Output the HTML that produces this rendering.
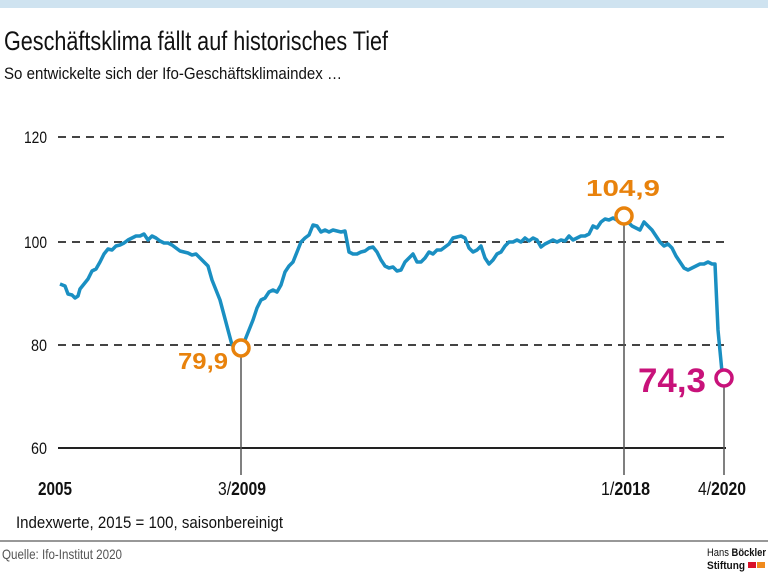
<!DOCTYPE html>
<html><head><meta charset="utf-8"><style>
body{margin:0;width:768px;height:573px;background:#fff;overflow:hidden;font-family:"Liberation Sans",sans-serif}
</style></head><body>
<svg width="768" height="573" xmlns="http://www.w3.org/2000/svg" style="position:absolute;left:0;top:0" font-family="Liberation Sans, sans-serif">
<rect x="0" y="0" width="768" height="8" fill="#cfe3f0"/>
<text x="4" y="50" font-size="27" fill="#111" textLength="384" lengthAdjust="spacingAndGlyphs">Geschäftsklima fällt auf historisches Tief</text>
<text x="4" y="79" font-size="17" fill="#111" textLength="338" lengthAdjust="spacingAndGlyphs">So entwickelte sich der Ifo-Geschäftsklimaindex …</text>
<g stroke="#444" stroke-width="2" stroke-dasharray="8,6">
<line x1="58" y1="137" x2="724" y2="137"/>
<line x1="58" y1="242" x2="724" y2="242"/>
<line x1="58" y1="345" x2="724" y2="345"/>
</g>
<line x1="58" y1="448" x2="726" y2="448" stroke="#222" stroke-width="2"/>
<g font-size="17" fill="#111">
<text x="24" y="143" textLength="23" lengthAdjust="spacingAndGlyphs">120</text>
<text x="24" y="248" textLength="23" lengthAdjust="spacingAndGlyphs">100</text>
<text x="31" y="351" textLength="16" lengthAdjust="spacingAndGlyphs">80</text>
<text x="31" y="454" textLength="16" lengthAdjust="spacingAndGlyphs">60</text>
</g>
<g stroke="#555" stroke-width="1.5">
<line x1="241" y1="356" x2="241" y2="475"/>
<line x1="624" y1="224" x2="624" y2="475"/>
<line x1="724" y1="386" x2="724" y2="475"/>
</g>
<polyline fill="none" stroke="#1a8fc2" stroke-width="3.5" stroke-linejoin="round" points="60,284 65,286 68,294 72,295 75,298 78,296 80,289 84,284 88,279 92,271 96,269 100,262 104,254 108,249 112,250 116,246 120,245 124,243 128,240 132,238 136,236 140,236 144,234 148,240 152,236 156,238 160,241 164,243 168,243 172,245 176,248 180,251 184,252 188,253 192,255 196,254 200,258 204,262 208,266 212,280 216,290 220,300 224,315 228,330 232,345 236,348 241,348 245,340 249,330 253,320 257,308 261,300 265,298 269,292 273,290 277,292 281,285 285,272 289,266 293,262 297,252 301,242 305,238 309,235 313,225 317,226 321,232 325,230 329,232 333,230 337,231 341,232 345,231 349,252 353,254 357,254 361,252 365,251 369,248 373,247 377,252 381,260 385,266 389,268 393,267 397,271 401,270 405,262 409,258 413,254 417,262 421,262 425,258 429,252 433,254 437,250 441,250 445,247 449,244 453,238 457,237 461,236 465,238 469,248 473,252 477,250 481,246 485,258 489,264 493,260 497,254 501,252 505,246 509,242 513,242 517,240 521,242 525,238 529,241 533,238 537,240 541,247 545,244 549,242 553,240 557,242 561,240 565,241 569,236 573,240 577,238 581,236 585,236 589,234 593,226 597,228 601,222 605,219 609,220 613,218 617,220 621,216 624,216 628,222 632,226 636,228 640,230 644,222 648,226 652,230 656,236 660,242 664,246 668,244 672,248 676,256 680,262 684,268 688,270 692,268 696,266 700,264 704,264 708,262 712,264 715,264 718,330 722,372 724,378"/>
<circle cx="241" cy="348" r="8" fill="#fff" stroke="#e8820c" stroke-width="3.5"/>
<circle cx="624" cy="216" r="8" fill="#fff" stroke="#e8820c" stroke-width="3.5"/>
<circle cx="724" cy="378" r="8" fill="#fff" stroke="#c8127a" stroke-width="3.5"/>
<g font-weight="bold">
<text x="178" y="369" font-size="23" fill="#e8820c" textLength="50" lengthAdjust="spacingAndGlyphs">79,9</text>
<text x="586" y="196" font-size="23" fill="#e8820c" textLength="74" lengthAdjust="spacingAndGlyphs">104,9</text>
<text x="638" y="392" font-size="34" fill="#c8127a" textLength="68" lengthAdjust="spacingAndGlyphs">74,3</text>
</g>
<g font-size="18" fill="#111">
<text x="38" y="495" font-weight="bold" textLength="34" lengthAdjust="spacingAndGlyphs">2005</text>
<text x="218" y="495" textLength="48" lengthAdjust="spacingAndGlyphs">3/<tspan font-weight="bold">2009</tspan></text>
<text x="601" y="495" textLength="49" lengthAdjust="spacingAndGlyphs">1/<tspan font-weight="bold">2018</tspan></text>
<text x="698" y="495" textLength="48" lengthAdjust="spacingAndGlyphs">4/<tspan font-weight="bold">2020</tspan></text>
</g>
<text x="16" y="528" font-size="17" fill="#111" textLength="267" lengthAdjust="spacingAndGlyphs">Indexwerte, 2015 = 100, saisonbereinigt</text>
<line x1="0" y1="541" x2="768" y2="541" stroke="#777" stroke-width="1.5"/>
<text x="2" y="559" font-size="14" fill="#555" textLength="120" lengthAdjust="spacingAndGlyphs">Quelle: Ifo-Institut 2020</text>
<text x="707" y="556" font-size="11" fill="#111" textLength="59" lengthAdjust="spacingAndGlyphs">Hans <tspan font-weight="bold">Böckler</tspan></text>
<text x="707" y="569" font-size="11" fill="#111" font-weight="bold" textLength="38" lengthAdjust="spacingAndGlyphs">Stiftung</text>
<rect x="748" y="562" width="8" height="6" fill="#d8122a"/>
<rect x="757" y="562" width="8" height="6" fill="#f08a1c"/>
</svg>
</body></html>
